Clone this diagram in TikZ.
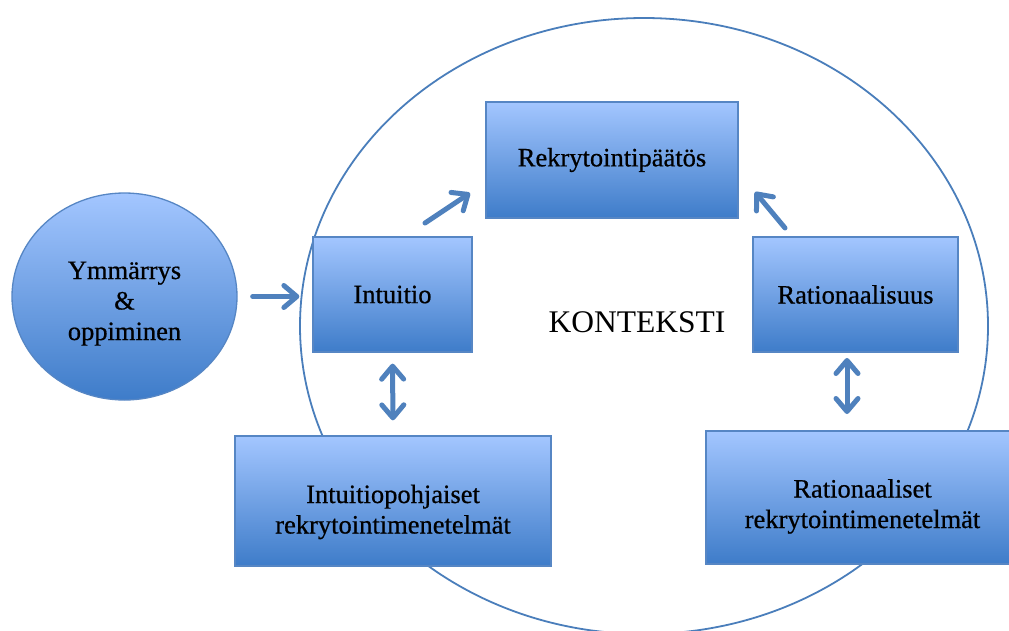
\documentclass[tikz,border=0pt]{standalone}
\usepackage{fontspec}
\setmainfont{Liberation Serif}
\newfontfamily\boxfont{Liberation Serif}[FakeBold=0.6]
\usetikzlibrary{arrows.meta,shapes.geometric}

\definecolor{boxtop}{HTML}{A3C6FF}
\definecolor{boxmid}{HTML}{7FAAEC}
\definecolor{boxbot}{HTML}{3E7CC9}
\definecolor{boxedge}{HTML}{5686C4}
\definecolor{ctxedge}{HTML}{4A7EBB}
\definecolor{arrowblue}{HTML}{4F81BD}

% stacked, centred lines whose first baseline sits #1 below the node centre
\newcommand\boxlines[2]{\raisebox{-#1}[0pt][0pt]{\begin{tabular}[t]{@{}c@{}}#2\end{tabular}}}

\tikzset{
  box/.style={draw=boxedge, line width=1.3pt, top color=boxtop, middle color=boxmid,
    bottom color=boxbot, shading angle=0, align=center, inner sep=0pt,
    font=\boxfont\fontsize{26.5}{30.5}\selectfont},
  ballnode/.style={box, ellipse},
  ctx/.style={draw=ctxedge, line width=1.8pt},
  arr/.style={draw=arrowblue, line width=5pt, line cap=round,
    -{Straight Barb[length=13pt, width=22pt, round]}},
  darr/.style={draw=arrowblue, line width=5pt, line cap=round,
    {Straight Barb[length=13pt, width=22pt, round]}-{Straight Barb[length=13pt, width=22pt, round]}}
}

\begin{document}
\begin{tikzpicture}[x=1pt,y=-1pt]
\useasboundingbox (0,0) rectangle (1009,630);
\clip (0,0) rectangle (1009,630);

% context ellipse behind everything
\draw[ctx] (644,326) ellipse [x radius=344, y radius=308];

% nodes
\node[ballnode, minimum width=225pt, minimum height=207pt] (ymm) at (124.5,296.5)
  {\boxlines{-17.5pt}{Ymmärrys\\\&\\oppiminen}};
\node[box, minimum width=252pt, minimum height=116pt] (rek) at (612,160) {Rekrytointipäätös};
\node[box, minimum width=159pt, minimum height=115pt] (int) at (392.5,294.5) {Intuitio};
\node[box, minimum width=205pt, minimum height=115pt] (rat) at (855.5,294.5) {Rationaalisuus};
\node[box, minimum width=316pt, minimum height=130pt] (ipm) at (393,501)
  {\boxlines{2pt}{Intuitiopohjaiset\\rekrytointimenetelmät}};
\node[box, minimum width=313pt, minimum height=133pt] (rpm) at (862.5,497.5)
  {\boxlines{0pt}{Rationaaliset\\rekrytointimenetelmät}};
\node[anchor=base, font=\fontsize{31.5}{36}\selectfont, inner sep=0pt] (kon) at (637,332) {KONTEKSTI};

% arrow end points
\coordinate (d1a) at (425,223);
\coordinate (d1b) at (470,193);
\coordinate (d2a) at (785,228);
\coordinate (d2b) at (755,192);
\coordinate (r1a) at (847,358);
\coordinate (r1b) at (847,414);

% connectors
\draw[arr, shorten <=15pt, shorten >=13pt] (ymm.east) -- (ymm.east -| int.west);
\draw[arr] (d1a) -- (d1b);
\draw[arr] (d2a) -- (d2b);
\draw[darr, shorten <=11pt, shorten >=15pt] (int.south) -- (ipm.north);
\draw[darr] (r1a) -- (r1b);
\end{tikzpicture}
\end{document}
